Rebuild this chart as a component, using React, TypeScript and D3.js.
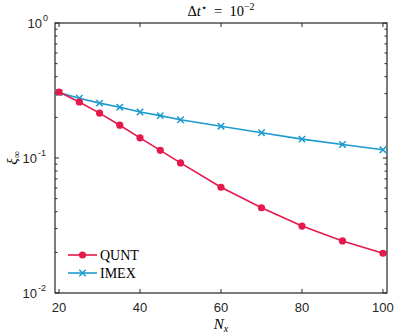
import React from 'react';
import * as d3 from 'd3';

const nx = [20, 25, 30, 35, 40, 45, 50, 60, 70, 80, 90, 100];
const quntErr = [0.308, 0.26, 0.215, 0.175, 0.141, 0.114, 0.092, 0.0607, 0.0428, 0.0313, 0.0243, 0.0197];
const imexErr = [0.305, 0.277, 0.255, 0.238, 0.219, 0.206, 0.192, 0.172, 0.154, 0.138, 0.126, 0.115];
const xTicks = [20, 40, 60, 80, 100];
const yDecades = [0, -1, -2];

const RED = '#e5194b';
const BLUE = '#1d9bce';
const AX = '#262626';

const App = () => {
  const width = 398;
  const height = 335;
  const m = { top: 23, right: 11, bottom: 42, left: 55 };

  const x = d3.scaleLinear().domain([19, 101]).range([m.left, width - m.right]);
  const y = d3.scaleLog().domain([0.01, 1]).range([height - m.bottom, m.top]);

  const line = d3.line<number>().x((_, i) => x(nx[i])).y(d => y(d));

  const minor: number[] = [];
  [0.01, 0.1].forEach(b => { for (let k = 2; k <= 9; k++) minor.push(b * k); });

  const x0 = x.range()[0], x1 = x.range()[1];
  const y0 = y.range()[0], y1 = y.range()[1];
  const sans = 'Liberation Sans, Arial, sans-serif';
  const serif = 'Liberation Serif, DejaVu Serif, serif';

  return (
    <svg width={width} height={height} style={{ position: 'absolute', left: 0, top: 0, background: '#fff' }}>
      {/* ticks */}
      {xTicks.map(t => (
        <g key={'xt' + t}>
          <line x1={x(t)} x2={x(t)} y1={y0} y2={y0 - 4} stroke={AX} />
          <line x1={x(t)} x2={x(t)} y1={y1} y2={y1 + 4} stroke={AX} />
          <text x={x(t)} y={y0 + 19} textAnchor="middle" fontFamily={sans} fontSize={13} fill={AX}>{t}</text>
        </g>
      ))}
      {yDecades.map(e => (
        <g key={'yd' + e}>
          <line x1={x0} x2={x0 + 4} y1={y(10 ** e)} y2={y(10 ** e)} stroke={AX} />
          <line x1={x1} x2={x1 - 4} y1={y(10 ** e)} y2={y(10 ** e)} stroke={AX} />
          <text x={x0 - (e === 0 ? 13 : 18)} y={y(10 ** e) + 5} textAnchor="end" fontFamily={sans} fontSize={13} fill={AX}>10</text>
          <text x={x0 - (e === 0 ? 12 : 17)} y={y(10 ** e) - 2} fontFamily={sans} fontSize={9} fill={AX}>{e === 0 ? '0' : String(e)}</text>
        </g>
      ))}
      {minor.map(v => (
        <g key={'ym' + v}>
          <line x1={x0} x2={x0 + 2.5} y1={y(v)} y2={y(v)} stroke={AX} />
          <line x1={x1} x2={x1 - 2.5} y1={y(v)} y2={y(v)} stroke={AX} />
        </g>
      ))}
      <rect x={x0} y={y1} width={x1 - x0} height={y0 - y1} fill="none" stroke={AX} strokeWidth={1.2} />

      {/* series */}
      <path d={line(imexErr) || ''} fill="none" stroke={BLUE} strokeWidth={1.6} />
      {imexErr.map((v, i) => (
        <path key={'im' + i} transform={`translate(${x(nx[i])},${y(v)})`} d="M-3.2,-3.2L3.2,3.2M-3.2,3.2L3.2,-3.2" stroke={BLUE} strokeWidth={1.5} />
      ))}
      <path d={line(quntErr) || ''} fill="none" stroke={RED} strokeWidth={1.6} />
      {quntErr.map((v, i) => (
        <circle key={'qu' + i} cx={x(nx[i])} cy={y(v)} r={3.6} fill={RED} />
      ))}

      {/* legend */}
      <g>
        <line x1={68} x2={97} y1={255} y2={255} stroke={RED} strokeWidth={1.6} />
        <circle cx={82.5} cy={255} r={3.6} fill={RED} />
        <text x={100} y={260} fontFamily={serif} fontSize={14} fill="#000">QUNT</text>
        <line x1={68} x2={97} y1={273} y2={273} stroke={BLUE} strokeWidth={1.6} />
        <path transform="translate(82.5,273)" d="M-3.2,-3.2L3.2,3.2M-3.2,3.2L3.2,-3.2" stroke={BLUE} strokeWidth={1.5} />
        <text x={100} y={278} fontFamily={serif} fontSize={14} fill="#000">IMEX</text>
      </g>

      {/* labels */}
      <text x={(x0 + x1) / 2} y={16} textAnchor="middle" fontFamily={serif} fontSize={14.5} fill="#000">
        Δ<tspan fontStyle="italic">t</tspan><tspan fontSize={10} dy={-5}>⋆</tspan><tspan dy={5} xmlSpace="preserve">  =  10</tspan><tspan fontSize={10} dy={-6}>−2</tspan>
      </text>
      <text x={(x0 + x1) / 2} y={329} textAnchor="middle" fontFamily={serif} fontSize={15} fill="#000">
        <tspan fontStyle="italic">N</tspan><tspan fontStyle="italic" fontSize={10} dy={3}>x</tspan>
      </text>
      <text transform={`translate(17,${(y0 + y1) / 2}) rotate(-90)`} textAnchor="middle" fontFamily={serif} fontSize={15} fill="#000">
        <tspan fontStyle="italic">ξ</tspan><tspan fontSize={10} dy={3}>∞</tspan>
      </text>
    </svg>
  );
};

export default App;
